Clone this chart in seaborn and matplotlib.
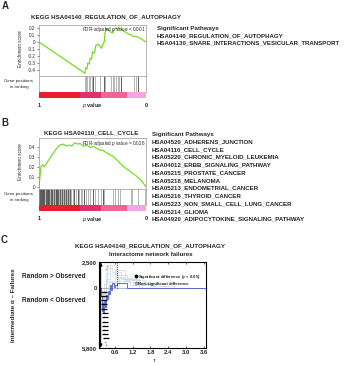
import matplotlib
matplotlib.use('Agg')
import matplotlib.pyplot as plt
from matplotlib.lines import Line2D
import seaborn as sns

sns.set_style('white')
plt.rcParams['font.family'] = ['Liberation Sans', 'DejaVu Sans']
plt.rcParams['mathtext.fontset'] = 'custom'
plt.rcParams['mathtext.it'] = 'Liberation Sans:italic'
plt.rcParams['mathtext.rm'] = 'Liberation Sans'
plt.rcParams['axes.unicode_minus'] = False

# ---------------- Panel A data
a_rank = [0.00, 0.430, 0.436, 0.449, 0.455, 0.470, 0.477, 0.492, 0.500, 0.520, 0.530,
          0.555, 0.585, 0.600, 0.610, 0.615, 0.625, 0.650, 0.670, 0.690, 0.700, 0.715,
          0.735, 0.745, 0.770, 0.800, 0.830, 0.860, 0.880, 0.920, 0.940, 1.000]
a_es = [0.00, -0.448, -0.37, -0.385, -0.30, -0.315, -0.23, -0.245, -0.14, -0.16, -0.05,
        -0.03, -0.09, -0.02, 0.00, 0.10, 0.20, 0.17, 0.14, 0.13, 0.17, 0.20,
        0.19, 0.21, 0.18, 0.15, 0.12, 0.10, 0.08, 0.075, 0.06, 0.00]
a_hits_light = [0.430, 0.439, 0.451, 0.464, 0.477, 0.492, 0.526, 0.570, 0.620, 0.670,
                0.689, 0.701, 0.720, 0.738, 0.750, 0.888, 0.907]
a_hits_dark = [0.508, 0.607, 0.763, 0.928]
a_title = 'KEGG HSA04140_REGULATION_OF_AUTOPHAGY'
a_fdr = 'FDR-adjusted $p$ value < 0.001'
a_yticks = [0.2, 0.1, 0, -0.1, -0.2, -0.3, -0.4]
a_pathways = ['HSA04140_REGULATION_OF_AUTOPHAGY',
              'HSA04130_SNARE_INTERACTIONS_VESICULAR_TRANSPORT']

# ---------------- Panel B data
b_rank = [0.0, 0.019, 0.034, 0.047, 0.072, 0.103, 0.134, 0.165, 0.196, 0.227, 0.259,
          0.283, 0.305, 0.336, 0.358, 0.383, 0.414, 0.445, 0.477, 0.508, 0.539, 0.570,
          0.601, 0.648, 0.695, 0.741, 0.788, 0.850, 0.913, 0.960, 1.0]
b_es = [0.0, 0.207, 0.223, 0.20, 0.24, 0.29, 0.34, 0.39, 0.423, 0.433, 0.413,
        0.423, 0.413, 0.447, 0.433, 0.44, 0.413, 0.423, 0.40, 0.407, 0.39, 0.373,
        0.367, 0.333, 0.307, 0.257, 0.207, 0.157, 0.107, 0.057, 0.0]
b_hits_dark = [0.004, 0.012, 0.022, 0.030, 0.041, 0.050, 0.063, 0.072, 0.085, 0.098,
               0.110, 0.124, 0.140, 0.155, 0.170, 0.182, 0.198, 0.215, 0.232, 0.250,
               0.270, 0.290, 0.330, 0.360, 0.420, 0.500, 0.600]
b_hits_light = [0.017, 0.036, 0.058, 0.080, 0.105, 0.132, 0.148, 0.163, 0.190, 0.208,
                0.225, 0.242, 0.260, 0.280, 0.300, 0.315, 0.345, 0.375, 0.390, 0.400,
                0.440, 0.460, 0.480, 0.520, 0.555, 0.580, 0.610, 0.690, 0.710, 0.740,
                0.760, 0.860, 0.870, 0.925, 0.990]
b_title = 'KEGG HSA04110_CELL_CYCLE'
b_fdr = 'FDR-adjusted $p$ value = 0.026'
b_yticks = [0.4, 0.3, 0.2, 0.1, 0]
b_pathways = ['HSA04520_ADHERENS_JUNCTION', 'HSA04110_CELL_CYCLE',
              'HSA05220_CHRONIC_MYELOID_LEUKEMIA', 'HSA04012_ERBB_SIGNALING_PATHWAY',
              'HSA05215_PROSTATE_CANCER', 'HSA05218_MELANOMA',
              'HSA05213_ENDOMETRIAL_CANCER', 'HSA05216_THYROID_CANCER',
              'HSA05223_NON_SMALL_CELL_LUNG_CANCER', 'HSA05214_GLIOMA',
              'HSA04920_ADIPOCYTOKINE_SIGNALING_PATHWAY']

# rank colour bands (p value 1 -> 0)
band_edges = [0, 0.38, 0.58, 0.82, 1.0]
band_colors = ['#ea1d2c', '#e2306a', '#f0649a', '#f3a6e4']

# ---------------- Panel C data
null_tau = [[0.10, 0.20, 0.30, 0.45, 0.70, 1.10, 1.50],
            [0.10, 0.25, 0.35, 0.50, 0.80, 1.30, 1.90],
            [0.10, 0.20, 0.40, 0.60, 0.90, 1.60, 2.30],
            [0.10, 0.30, 0.45, 0.65, 1.00, 1.80, 2.60],
            [0.10, 0.22, 0.32, 0.55, 0.75, 1.20, 2.00],
            [0.10, 0.18, 0.28, 0.42, 0.60, 0.95, 1.40]]
null_val = [[-1800, -600, 900, 1300, 700, 300, 0],
            [-1200, 400, 1900, 1500, 900, 500, 0],
            [-2000, -1000, 300, 1100, 800, 400, 0],
            [-900, 1400, 2200, 1200, 600, 200, 0],
            [-1500, -300, 700, 400, 1000, 300, 0],
            [-600, -1600, -400, 600, 1700, 900, 0]]
obs_tau = [0.07, 0.14, 0.16, 0.19, 0.21, 0.24, 0.27, 0.30, 0.33, 0.36, 0.40, 0.44,
           0.48, 0.52, 0.56, 0.62, 0.68, 1.00, 3.67]
obs_val = [0, -800, -2200, -1500, -2400, -1300, -1800, -700, -1100, -300, -600, 300,
           -200, 500, 100, 300, 500, 0, 0]
sig_tau = [0.24, 0.245, 0.25, 0.25, 0.255, 0.26, 0.265, 0.27, 0.275, 0.28, 0.285, 0.29]
sig_val = [-390, -815, -1210, -1600, -2030, -2450, -2840, -3260, -3660, -4090, -4410, -4800]
nonsig_tau = [0.27, 0.29, 0.30, 0.34]
nonsig_val = [-5200, -5500, 1800, 2100]
tau_cut = 0.69
c_xticks = [0.6, 1.2, 1.8, 2.4, 3.0, 3.6]
c_yticks = [-5800, 0, 2500]
c_ylabels = ['5,800', '0', '2,500']

W, H = 351, 365
fig = plt.figure(figsize=(W / 100, H / 100), dpi=100)


def box(l, t, r, b):
    return [l / W, 1 - b / H, (r - l) / W, (b - t) / H]


def ftext(x, y, s, **kw):
    fig.text(x / W, 1 - y / H, s, **kw)


def gsea(top, rank, es, yticks, ylim, light, dark, fdr, fdr_y):
    ax = fig.add_axes(box(39, top, 146, top + 51))
    sns.lineplot(x=rank, y=es, ax=ax, color='#77dd22', lw=0.9, estimator=None, sort=False)
    ax.set_xlim(0, 1)
    ax.set_ylim(*ylim)
    ax.set_xticks([])
    ax.set_yticks(yticks)
    ax.set_yticklabels([('%g' % v) for v in yticks], fontsize=3.3)
    ax.tick_params(axis='y', length=1.5, width=0.4, pad=1, left=True)
    ax.set_xlabel('')
    ax.set_ylabel('')
    for s in ax.spines.values():
        s.set_color('#999999')
        s.set_linewidth(0.5)
    ax.text(0.99, fdr_y, fdr, transform=ax.transAxes, ha='right', va='center', fontsize=3.3)

    g = fig.add_axes(box(39, top + 51, 146, top + 67))
    g.vlines(light, 0, 1, colors='#aaaaaa', lw=0.6)
    g.vlines(dark, 0, 1, colors='#444444', lw=0.6)
    g.set_xlim(0, 1)
    g.set_ylim(0, 1)
    g.set_xticks([])
    g.set_yticks([])
    for s in g.spines.values():
        s.set_color('#999999')
        s.set_linewidth(0.5)

    c = fig.add_axes(box(39, top + 67, 146, top + 73))
    for i, col in enumerate(band_colors):
        c.axvspan(band_edges[i], band_edges[i + 1], color=col, lw=0)
    c.set_xlim(0, 1)
    c.set_xticks([])
    c.set_yticks([])
    for s in c.spines.values():
        s.set_visible(False)

    ftext(20, top + 24, 'Enrichment score', rotation=90, ha='center', va='center', fontsize=3.3)
    ftext(19, top + 59, 'Gene positions\nin ranking', ha='center', va='center',
          fontsize=3.2, linespacing=1.5)
    ftext(39, top + 81, '1', ha='center', va='center', fontsize=4, fontweight='bold')
    ftext(146, top + 81, '0', ha='center', va='center', fontsize=4, fontweight='bold')
    ftext(92.5, top + 81, r'$p$ value', ha='center', va='center', fontsize=4,
          fontweight='bold')


# ---- Panel A
ftext(5, 6, 'A', fontsize=7, fontweight='bold', ha='center', va='center')
ftext(106.5, 16.5, a_title, fontsize=4.5, fontweight='bold', ha='center', va='center')
gsea(25, a_rank, a_es, a_yticks, (-0.486, 0.243), a_hits_light, a_hits_dark, a_fdr, 0.91)
ftext(157, 28.5, 'Significant Pathways', fontsize=4.4, fontweight='bold', va='center')
for i, p in enumerate(a_pathways):
    ftext(157, 35.8 + 7.2 * i, p, fontsize=4.4, fontweight='bold', va='center')

# ---- Panel B
ftext(5, 123, 'B', fontsize=7, fontweight='bold', ha='center', va='center')
ftext(91.5, 133, b_title, fontsize=4.5, fontweight='bold', ha='center', va='center')
gsea(138, b_rank, b_es, b_yticks, (-0.023, 0.495), b_hits_light, b_hits_dark, b_fdr, 0.9)
ftext(152, 134, 'Significant Pathways', fontsize=4.4, fontweight='bold', va='center')
for i, p in enumerate(b_pathways):
    ftext(152, 141.8 + 7.75 * i, p, fontsize=4.4, fontweight='bold', va='center')

# ---- Panel C
ftext(4, 240, 'C', fontsize=7, fontweight='bold', ha='center', va='center')
ftext(150, 246, a_title, fontsize=4.5, fontweight='bold', ha='center', va='center')
ftext(151, 255, 'Interactome network failures', fontsize=4.4, fontweight='bold',
      ha='center', va='center')

axc = fig.add_axes(box(99, 262, 206, 348))
for xs, ys in zip(null_tau, null_val):
    sns.lineplot(x=xs, y=ys, ax=axc, drawstyle='steps-post', color='#cdd7e2', lw=0.5,
                 estimator=None, sort=False)
axc.axhline(0, color='#8a9ad8', lw=0.5)
sns.lineplot(x=obs_tau, y=obs_val, ax=axc, drawstyle='steps-post', color='#4a5cc8',
             lw=0.6, estimator=None, sort=False)
axc.vlines(tau_cut, 0, c_yticks[-1], colors='black', linestyles=(0, (1, 1.5)), lw=0.6)
sns.scatterplot(x=sig_tau, y=sig_val, ax=axc, marker='_', s=16, color='black',
                edgecolor='black', linewidth=0.9, zorder=5)
sns.scatterplot(x=nonsig_tau, y=nonsig_val, ax=axc, marker='o', s=2, color='#aaaaaa',
                linewidth=0, zorder=5)
axc.set_xlim(0.07, 3.67)
axc.set_ylim(-5800, 2500)
axc.set_xticks(c_xticks)
axc.set_xticklabels([('%.1f' % v) for v in c_xticks], fontsize=4.3, fontweight='bold')
axc.set_yticks(c_yticks)
axc.set_yticklabels(c_ylabels, fontsize=4.3, fontweight='bold')
axc.tick_params(direction='in', length=1.5, width=0.5, pad=1.5, top=True, bottom=True,
                left=True)
axc.set_xlabel('')
axc.set_ylabel('')
for s in axc.spines.values():
    s.set_color('black')
    s.set_linewidth(0.8)
axc.annotate('', xy=(0.015, 1.0), xytext=(0.015, 0.0), xycoords='axes fraction',
             arrowprops=dict(arrowstyle='<|-|>', color='black', lw=0.8,
                             mutation_scale=5, shrinkA=0, shrinkB=0))
handles = [Line2D([], [], marker='o', color='black', ls='', ms=1.8),
           Line2D([], [], marker='o', color='#999999', ls='', ms=1.8)]
axc.legend(handles, ['Significant difference ($p$ < 0.05)', 'Non-significant difference'],
           loc='upper left', bbox_to_anchor=(0.31, 0.9), frameon=False,
           prop=dict(size=3, weight='bold'), handletextpad=0.2, labelspacing=0.2,
           borderpad=0, handlelength=0.8)

ftext(154, 360, 'τ', fontsize=4.5, ha='center', va='center')
ftext(22, 277, 'Random > Observed', fontsize=4.7, fontweight='bold', va='center')
ftext(22, 301, 'Random < Observed', fontsize=4.7, fontweight='bold', va='center')
ftext(14, 305, 'Intermediate α – Failures', rotation=90, fontsize=4.5, fontweight='bold',
      ha='center', va='center')

plt.savefig('out.png', dpi=100)
